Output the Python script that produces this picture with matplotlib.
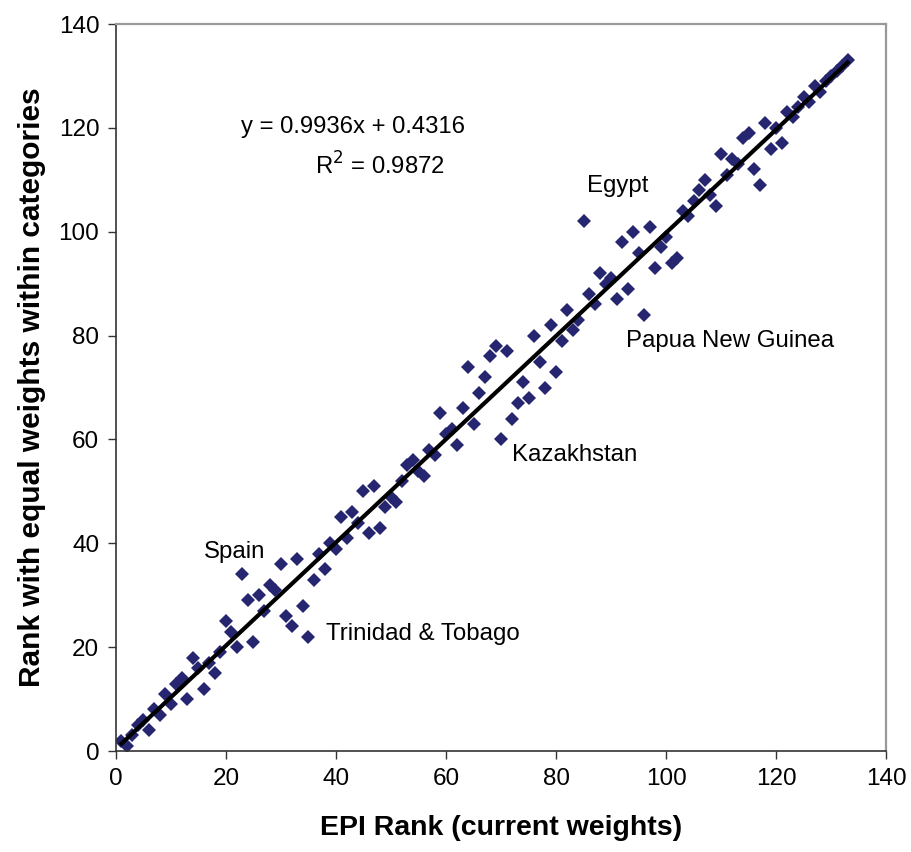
import numpy as np
import matplotlib
matplotlib.use("Agg")
from matplotlib import pyplot as plt

# EPI rank (current weights) vs rank with equal weights within categories
epi_rank = list(range(1, 134))
equal_rank = [
    2, 1, 3, 5, 6, 4, 8, 7, 11, 9,
    13, 14, 10, 18, 16, 12, 17, 15, 19, 25,
    23, 20, 34, 29, 21, 30, 27, 32, 31, 36,
    26, 24, 37, 28, 22, 33, 38, 35, 40, 39,
    45, 41, 46, 44, 50, 42, 51, 43, 47, 49,
    48, 52, 55, 56, 54, 53, 58, 57, 65, 61,
    62, 59, 66, 74, 63, 69, 72, 76, 78, 60,
    77, 64, 67, 71, 68, 80, 75, 70, 82, 73,
    79, 85, 81, 83, 102, 88, 86, 92, 90, 91,
    87, 98, 89, 100, 96, 84, 101, 93, 97, 99,
    94, 95, 104, 103, 106, 108, 110, 107, 105, 115,
    111, 114, 113, 118, 119, 112, 109, 121, 116, 120,
    117, 123, 122, 124, 126, 125, 128, 127, 129, 130,
    131, 132, 133,
]

slope, intercept, r2 = 0.9936, 0.4316, 0.9872

labels = ["Egypt", "Papua New Guinea", "Kazakhstan", "Spain", "Trinidad & Tobago"]
label_x = [85.6, 92.7, 72.0, 16.0, 38.2]
label_y = [108.8, 79.0, 57.0, 38.3, 22.5]

ticks = [0, 20, 40, 60, 80, 100, 120, 140]

plt.rcParams["font.family"] = ["Liberation Sans", "DejaVu Sans"]

fig = plt.figure(figsize=(9.11, 8.52), dpi=100)
ax = fig.add_axes([0.1273, 0.1185, 0.8453, 0.8533])

x = np.array(epi_rank, dtype=float)
y = np.array(equal_rank, dtype=float)
ax.plot(x, y, linestyle="none", marker="D", markersize=7.6,
        color="#262670", markeredgewidth=0, zorder=2)

xs = np.array([x.min(), x.max()])
ax.plot(xs, slope * xs + intercept, color="black", linewidth=3.0, zorder=3)

ax.text(43.1, 120.2, f"y = {slope}x + {intercept}", ha="center", va="center", fontsize=17.2)
ax.text(48.0, 112.6, f"R$^2$ = {r2}", ha="center", va="center", fontsize=17.2)

for name, lx, ly in zip(labels, label_x, label_y):
    ax.text(lx, ly, name, ha="left", va="center", fontsize=17.3)

ax.set_xlim(0, 140)
ax.set_ylim(0, 140)
ax.set_xticks(ticks)
ax.set_yticks(ticks)
ax.tick_params(labelsize=17.5, length=6, width=1, color="#333333", pad=6)

for side in ("left", "bottom"):
    ax.spines[side].set_color("#333333")
    ax.spines[side].set_linewidth(1.2)
for side in ("top", "right"):
    ax.spines[side].set_color("#999999")
    ax.spines[side].set_linewidth(1.6)

ax.set_xlabel("EPI Rank (current weights)", fontsize=20.5, fontweight="bold", labelpad=18)
ax.set_ylabel("Rank with equal weights within categories", fontsize=21.5, fontweight="bold", labelpad=9)

fig.savefig("out.png", dpi=100)
